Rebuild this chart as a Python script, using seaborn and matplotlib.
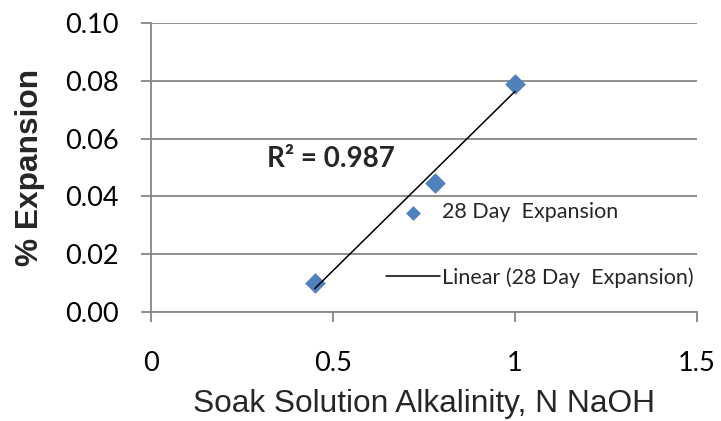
import numpy as np
import pandas as pd
import matplotlib
matplotlib.use("Agg")
import matplotlib.pyplot as plt
import seaborn as sns

# Data
alkalinity = [0.45, 0.78, 1.00]          # N NaOH
expansion = [0.010, 0.0445, 0.079]       # % expansion at 28 days
x_ticks = [0, 0.5, 1, 1.5]
x_tick_labels = ["0", "0.5", "1", "1.5"]
y_ticks = [0.00, 0.02, 0.04, 0.06, 0.08, 0.10]
y_tick_labels = ["0.00", "0.02", "0.04", "0.06", "0.08", "0.10"]
series_label = "28 Day  Expansion"
trend_label = "Linear (28 Day  Expansion)"

df = pd.DataFrame({"x": alkalinity, "y": expansion})

sns.set_style("white")
plt.rcParams["font.family"] = ["Lato", "DejaVu Sans"]

BLUE = "#4F81BD"
GRAY = "#868686"

fig = plt.figure(figsize=(7.21, 4.21), dpi=100)
ax = fig.add_subplot(111)
fig.subplots_adjust(left=0.2094, right=0.9667, bottom=0.2582, top=0.9461)

sns.scatterplot(data=df, x="x", y="y", marker="D", s=100, color=BLUE,
                edgecolor=BLUE, linewidth=0.5, ax=ax, zorder=3, legend=False)
sns.regplot(data=df, x="x", y="y", scatter=False, ci=None, truncate=True, ax=ax,
            line_kws=dict(color="black", lw=1.1, zorder=4))

# R^2 of linear fit
xa = np.array(alkalinity); ya = np.array(expansion)
r2 = np.corrcoef(xa, ya)[0, 1] ** 2
ax.text(0.319, 0.0530, f"R² = {r2:.3f}", fontsize=20, fontweight="bold",
        ha="left", va="center", family=["Lato", "DejaVu Sans"], zorder=5)

ax.set_xlim(0, 1.5)
ax.set_ylim(0, 0.10)
ax.set_xticks(x_ticks)
ax.set_xticklabels(x_tick_labels)
ax.set_yticks(y_ticks)
ax.set_yticklabels(y_tick_labels)

ax.grid(False)
ax.yaxis.grid(True, color=GRAY, lw=1.3, zorder=0)
ax.set_axisbelow(True)
for side in ["top", "right"]:
    ax.spines[side].set_visible(False)
for side in ["left", "bottom"]:
    ax.spines[side].set_color(GRAY)
    ax.spines[side].set_linewidth(1.3)

ax.tick_params(axis="x", which="major", direction="out", length=7, width=1.3,
               color=GRAY, pad=21, labelsize=19.5, labelcolor="black", bottom=True)
ax.tick_params(axis="y", which="major", direction="out", length=7, width=1.3,
               color=GRAY, pad=16, labelsize=19.5, labelcolor="black", left=True)

ax.set_xlabel("Soak Solution Alkalinity, N NaOH", fontsize=22.8,
              family=["Liberation Sans", "DejaVu Sans"])
ax.set_ylabel("% Expansion", fontsize=22.8, fontweight="bold",
              family=["Liberation Sans", "DejaVu Sans"])
ax.xaxis.label.set_va("center")
ax.yaxis.label.set_va("center")
ax.xaxis.set_label_coords(0.5, -0.317)
ax.yaxis.set_label_coords(-0.2216, 0.5)

scatter_handle = ax.collections[0]
line_handle = ax.lines[-1]
leg = ax.legend([scatter_handle, line_handle], [series_label, trend_label],
                loc="center left", bbox_to_anchor=(0.43, 0.232), frameon=False,
                fontsize=15.5, borderpad=0, handlelength=2.5, handletextpad=0.12,
                labelspacing=2.08, markerscale=0.7, borderaxespad=0)

fig.savefig("out.png", dpi=100)
